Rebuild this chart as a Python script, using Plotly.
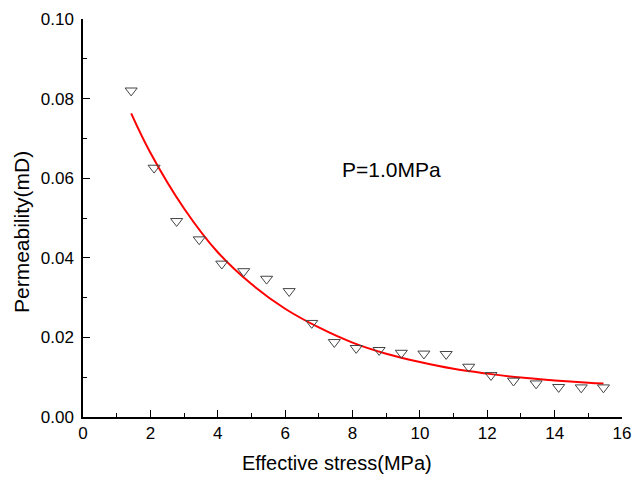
import plotly.graph_objects as go

stress = [1.43, 2.11, 2.78, 3.45, 4.12, 4.77, 5.45, 6.12, 6.79, 7.46, 8.11,
          8.79, 9.45, 10.12, 10.78, 11.45, 12.11, 12.78, 13.45, 14.12, 14.79, 15.45]
permeability = [0.0820, 0.0626, 0.0492, 0.0446, 0.0385, 0.0366, 0.0347, 0.0316,
                 0.0236, 0.0188, 0.0173, 0.0168, 0.0161, 0.0159, 0.0158, 0.0126,
                 0.0105, 0.0091, 0.0084, 0.0075, 0.0074, 0.0074]

# Fitted curve
fit_x = [1.43, 2, 3, 4, 5, 6, 7, 8, 9, 10, 11, 12, 13, 14, 15, 15.45]
fit_y = [0.0763, 0.0664, 0.0524, 0.0414, 0.0334, 0.0272, 0.0225, 0.0187,
         0.0159, 0.0138, 0.0121, 0.0109, 0.0099, 0.0092, 0.0086, 0.0084]

x_ticks = [0, 2, 4, 6, 8, 10, 12, 14, 16]
y_ticks = [0.00, 0.02, 0.04, 0.06, 0.08, 0.10]

FONT = "Arial, Liberation Sans, sans-serif"

fig = go.Figure()
fig.add_trace(go.Scatter(
    x=fit_x, y=fit_y, mode="lines", line=dict(color="#ff0000", width=2, shape="spline"),
    showlegend=False, hoverinfo="skip"))
fig.add_trace(go.Scatter(
    x=stress, y=permeability, mode="markers",
    marker=dict(symbol="triangle-down-open", size=10.5, color="#444444", line=dict(width=1, color="#444444")),
    showlegend=False))

fig.add_annotation(x=9.17, y=0.0623, text="P=1.0MPa", showarrow=False,
                   font=dict(family=FONT, size=21, color="black"), xanchor="center", yanchor="middle")

# axis titles as paper annotations (positioned as in the reference)
fig.add_annotation(x=0.4707, y=-0.1156, xref="paper", yref="paper", text="Effective stress(MPa)",
                   showarrow=False, font=dict(family=FONT, size=20, color="black"),
                   xanchor="center", yanchor="middle")
fig.add_annotation(x=-0.115, y=0.4648, xref="paper", yref="paper", text="Permeability(mD)",
                   showarrow=False, textangle=-90, font=dict(family=FONT, size=21, color="black"),
                   xanchor="center", yanchor="middle")

axis_common = dict(
    showline=True, linecolor="black", linewidth=1.5, mirror=False,
    showgrid=False, zeroline=False, automargin=False,
    ticks="inside", ticklen=7, tickwidth=1.3, tickcolor="black",
    tickfont=dict(family=FONT, size=17, color="black"),
)

fig.update_xaxes(
    range=[0, 16], tickvals=x_ticks, ticktext=[str(v) for v in x_ticks],
    minor=dict(dtick=1, ticks="inside", ticklen=4, tickwidth=1.3, tickcolor="black", showgrid=False),
    **axis_common)
fig.update_yaxes(
    range=[0, 0.10], tickvals=y_ticks, ticktext=[f"{v:.2f}" for v in y_ticks],
    ticklabelstandoff=4,
    minor=dict(dtick=0.01, ticks="inside", ticklen=4, tickwidth=1.3, tickcolor="black", showgrid=False),
    **axis_common)

fig.update_layout(
    width=633, height=480,
    margin=dict(l=83, r=11, t=19, b=63, autoexpand=False),
    plot_bgcolor="white", paper_bgcolor="white",
    font=dict(family=FONT, color="black"),
)

fig.write_html("out.html")
